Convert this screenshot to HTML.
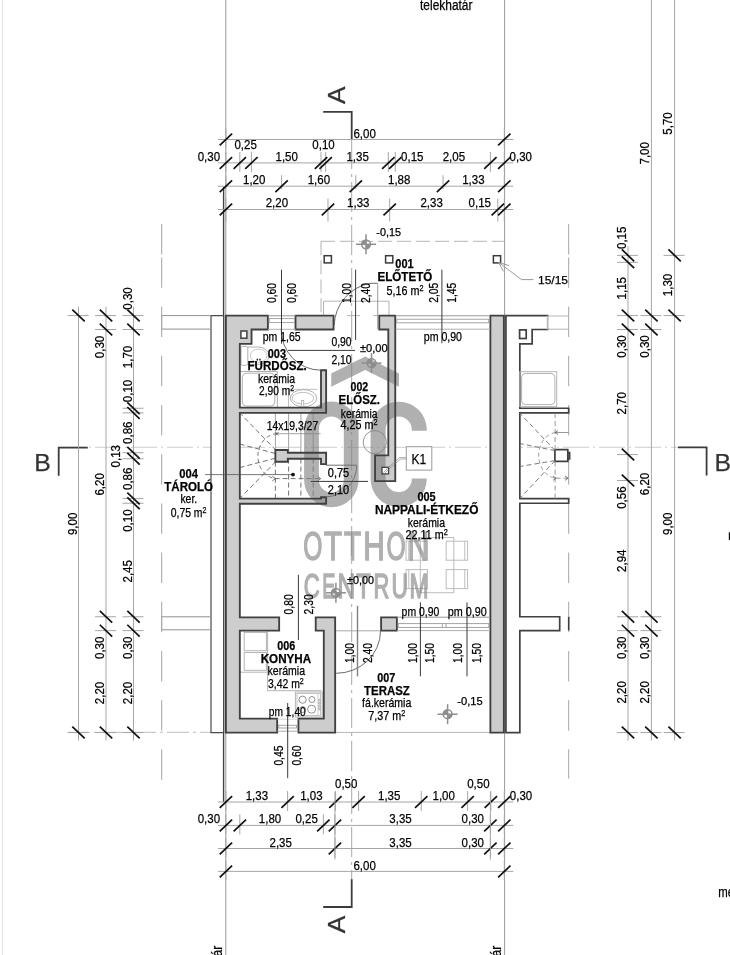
<!DOCTYPE html>
<html lang="hu"><head><meta charset="utf-8"><title>Alaprajz</title>
<style>html,body{margin:0;padding:0;background:#fff}svg{display:block;will-change:transform;opacity:0.999}text{font-family:"Liberation Sans", sans-serif}</style>
</head><body>
<svg width="730" height="955" viewBox="0 0 730 955">
<rect width="730" height="955" fill="#fff"/>
<line x1="2.5" y1="0" x2="2.5" y2="955" stroke="#e6e6e6" stroke-width="1.2" />
<line x1="225.8" y1="0" x2="225.8" y2="955" stroke="#9a9a9a" stroke-width="1" />
<line x1="504.6" y1="0" x2="504.6" y2="955" stroke="#9a9a9a" stroke-width="1" />
<line x1="223.6" y1="187" x2="223.6" y2="802" stroke="#404040" stroke-width="1.4" />
<line x1="335" y1="732.4" x2="490" y2="732.4" stroke="#b4b4b4" stroke-width="1" />
<line x1="68" y1="732.3" x2="211" y2="732.3" stroke="#bdbdbd" stroke-width="1" stroke-dasharray="22 4 3 4" />
<path d="M161.7 224 V254.5 M161.7 257.4 V287.8 M161.7 306.6 V337 M161.7 355.8 V386.2 M161.7 405 V435.4 M161.7 454.2 V484.6 M161.7 503.4 V533.8 M161.7 552.6 V583 M161.7 601.8 V632.2 M161.7 651 V681.4 M161.7 700.2 V730.6 M161.7 749.4 V779.8" fill="none" stroke="#a4a4a4" stroke-width="1"/>
<path d="M568.7 224 V254.5 M568.7 257.4 V287.8 M568.7 306.6 V337 M568.7 355.8 V386.2 M568.7 405 V435.4 M568.7 454.2 V484.6 M568.7 503.4 V533.8 M568.7 552.6 V583 M568.7 601.8 V632.2 M568.7 651 V681.4 M568.7 700.2 V730.6 M568.7 749.4 V778.5" fill="none" stroke="#a4a4a4" stroke-width="1"/>
<line x1="351.7" y1="139" x2="351.7" y2="880" stroke="#a8a8a8" stroke-width="1" stroke-dasharray="30 5 3 5" />
<line x1="59" y1="447.3" x2="706" y2="447.3" stroke="#cdcdcd" stroke-width="1" stroke-dasharray="26 4 2 4" />
<line x1="321" y1="241.3" x2="504" y2="241.3" stroke="#b4b4b4" stroke-width="1" stroke-dasharray="14 5" />
<line x1="321" y1="241.3" x2="321" y2="315" stroke="#b4b4b4" stroke-width="1" stroke-dasharray="14 5" />
<path d="M323.5 315.5 V301.2 H389 V315.5" fill="none" stroke="#b4b4b4" stroke-width="1"/>
<line x1="347.2" y1="315.6" x2="360.2" y2="315.6" stroke="#b4b4b4" stroke-width="1" />
<line x1="373.2" y1="315.6" x2="378" y2="315.6" stroke="#b4b4b4" stroke-width="1" />
<path d="M519.84 315.6 L505.92 315.6 L505.92 329.5 L505.92 732.57 L519.84 732.57 L519.84 630.64 L559.7 630.64 L559.7 616.75 L519.84 616.75 L519.84 503.24 L568.7 503.24 L568.7 498.6 L519.84 498.6 L519.84 412.89 L568.7 412.89 L568.7 408.26 L519.84 408.26 L519.84 343.86 L532.14 343.86 L532.14 329.5 L547.68 329.5 L547.68 315.6 Z" fill="#fff" stroke="#404040" stroke-width="1.7" stroke-linejoin="miter"/>
<rect x="519.6" y="329.9" width="6.6" height="8.6" fill="#fff" stroke="#404040" stroke-width="1.7"/>
<line x1="547.3" y1="316.6" x2="547.3" y2="328.6" stroke="#fff" stroke-width="2.6" />
<line x1="547.3" y1="316" x2="547.3" y2="329.2" stroke="#aaa" stroke-width="1" />
<line x1="547.3" y1="316" x2="568.7" y2="316" stroke="#b4b4b4" stroke-width="1" />
<line x1="547.3" y1="329.2" x2="568.7" y2="329.2" stroke="#b4b4b4" stroke-width="1" />
<rect x="519.8" y="371.7" width="36.9" height="34.9" fill="none" stroke="#b4b4b4" stroke-width="1"/>
<rect x="521.6" y="373.5" width="33.3" height="31.1" rx="4" fill="none" stroke="#b4b4b4" stroke-width="1"/>
<path d="M567.8 452.6 H569.6 V458.8 H567.8 M554.9 449.7 H567.8 V461.4 H554.9 Z" fill="#fff" stroke="#404040" stroke-width="1.7"/>
<line x1="555.1" y1="450.6" x2="519.8" y2="413.2" stroke="#6c6c6c" stroke-width="0.9" stroke-dasharray="5 3" />
<line x1="555.1" y1="450.6" x2="519.8" y2="443.5" stroke="#6c6c6c" stroke-width="0.9" stroke-dasharray="5 3" />
<line x1="555.1" y1="460.6" x2="519.8" y2="466.5" stroke="#6c6c6c" stroke-width="0.9" stroke-dasharray="5 3" />
<line x1="555.1" y1="460.6" x2="519.8" y2="498.5" stroke="#6c6c6c" stroke-width="0.9" stroke-dasharray="5 3" />
<line x1="555.1" y1="413" x2="555.1" y2="449.8" stroke="#8c8c8c" stroke-width="0.9" stroke-dasharray="5 3" />
<line x1="555.1" y1="461.5" x2="555.1" y2="498.5" stroke="#8c8c8c" stroke-width="0.9" stroke-dasharray="5 3" />
<path d="M555.5 432.5 A 19 23 0 0 0 555.5 478.2" fill="none" stroke="#8c8c8c" stroke-width="0.9" stroke-dasharray="4 3"/>
<line x1="555.5" y1="432.5" x2="568.7" y2="432.5" stroke="#8c8c8c" stroke-width="0.9" />
<line x1="555.5" y1="478.2" x2="568.7" y2="478.2" stroke="#8c8c8c" stroke-width="0.9" stroke-dasharray="5 3" />
<path d="M558 430.5 L555.3 432.5 L558 434.5 M553 476 L556 478.2 L553 480.4 M565 476 L568 478.2 L565 480.4" fill="none" stroke="#555" stroke-width="0.8"/>
<line x1="568.7" y1="616.9" x2="568.7" y2="630.4" stroke="#404040" stroke-width="1.6" />
<path d="M223.6 315.6 L223.6 732.57 L211 732.57 L211 315.6 Z" fill="#fff" stroke="#4a4a4a" stroke-width="1.2"/>
<line x1="161.7" y1="315.6" x2="211.2" y2="315.6" stroke="#909090" stroke-width="1" />
<line x1="161.7" y1="329.1" x2="211.2" y2="329.1" stroke="#909090" stroke-width="1" />
<line x1="161.7" y1="616.8" x2="211.2" y2="616.8" stroke="#909090" stroke-width="1" />
<line x1="161.7" y1="629.8" x2="211.2" y2="629.8" stroke="#909090" stroke-width="1" />
<line x1="161.7" y1="315.6" x2="161.7" y2="329.1" stroke="#a8a8a8" stroke-width="1" />
<line x1="161.7" y1="616.8" x2="161.7" y2="629.8" stroke="#a8a8a8" stroke-width="1" />
<rect x="241" y="346.3" width="6.8" height="19" rx="1.5" fill="none" stroke="#b0b0b0" stroke-width="1"/>
<path d="M247.8 347 H258 A 11 8.6 0 0 1 258 364.4 H247.8" fill="none" stroke="#b0b0b0" stroke-width="1"/>
<ellipse cx="258.6" cy="355.7" rx="8.4" ry="6.6" fill="none" stroke="#b0b0b0" stroke-width="0.7"/>
<path d="M240 371.5 H277.3 V407.3" fill="none" stroke="#b0b0b0" stroke-width="1"/>
<rect x="242.3" y="373.2" width="32.5" height="32.8" rx="4" fill="none" stroke="#b0b0b0" stroke-width="1"/>
<path d="M288.5 407.3 V389.3 H317.4" fill="none" stroke="#b0b0b0" stroke-width="0.8"/>
<ellipse cx="303.5" cy="398.2" rx="13.2" ry="8.6" fill="none" stroke="#b0b0b0" stroke-width="1"/>
<ellipse cx="303" cy="398.2" rx="10.8" ry="5.8" fill="none" stroke="#b0b0b0" stroke-width="0.8"/>
<rect x="301.5" y="400.4" width="2.2" height="6.8" fill="#fff" stroke="#b0b0b0" stroke-width="0.8"/>
<line x1="275.4" y1="413" x2="275.4" y2="452.5" stroke="#a4a4a4" stroke-width="1" />
<line x1="288.6" y1="413" x2="288.6" y2="452.5" stroke="#a4a4a4" stroke-width="1" />
<line x1="300.9" y1="413" x2="300.9" y2="452.5" stroke="#a4a4a4" stroke-width="1" />
<line x1="313.2" y1="413" x2="313.2" y2="452.5" stroke="#a4a4a4" stroke-width="1" />
<line x1="277" y1="433.7" x2="320.6" y2="433.7" stroke="#a4a4a4" stroke-width="1" />
<line x1="275.4" y1="461.8" x2="275.4" y2="498.4" stroke="#747474" stroke-width="1" stroke-dasharray="5 3" />
<line x1="288.6" y1="458.6" x2="288.6" y2="498.4" stroke="#747474" stroke-width="1" stroke-dasharray="5 3" />
<line x1="300.9" y1="458.6" x2="300.9" y2="498.4" stroke="#747474" stroke-width="1" stroke-dasharray="5 3" />
<line x1="313.2" y1="458.6" x2="313.2" y2="498.4" stroke="#747474" stroke-width="1" stroke-dasharray="5 3" />
<line x1="276" y1="450.3" x2="240.2" y2="413.4" stroke="#747474" stroke-width="1" stroke-dasharray="5 3" />
<line x1="275.4" y1="453.5" x2="240.2" y2="444.2" stroke="#747474" stroke-width="1" stroke-dasharray="5 3" />
<line x1="275.4" y1="458.2" x2="240.2" y2="467.5" stroke="#747474" stroke-width="1" stroke-dasharray="5 3" />
<line x1="276" y1="461.4" x2="240.2" y2="498" stroke="#747474" stroke-width="1" stroke-dasharray="5 3" />
<path d="M277 433.7 A 19.8 22.6 0 0 0 274.6 478.6" fill="none" stroke="#747474" stroke-width="1" stroke-dasharray="4 3"/>
<line x1="274.6" y1="478.6" x2="320.6" y2="478.6" stroke="#747474" stroke-width="1" stroke-dasharray="5 3" />
<path d="M275.5 432 L278.5 435.4 M278.5 432 L275.5 435.4 M272.3 476.3 L275.6 478.6 L272.3 480.9 M317.5 476.3 L320.8 478.6 L317.5 480.9" fill="none" stroke="#555" stroke-width="0.8"/>
<circle cx="374.8" cy="442.2" r="11.6" fill="none" stroke="#8a8a8a" stroke-width="0.9"/>
<rect x="420.3" y="537.5" width="33.5" height="55.2" fill="none" stroke="#bdbdbd" stroke-width="1"/>
<rect x="406" y="541.2" width="21.4" height="19" fill="none" stroke="#bdbdbd" stroke-width="1"/>
<line x1="408.8" y1="541.2" x2="408.8" y2="560.2" stroke="#bdbdbd" stroke-width="1" />
<rect x="406" y="569.6" width="21.4" height="19" fill="none" stroke="#bdbdbd" stroke-width="1"/>
<line x1="408.8" y1="569.6" x2="408.8" y2="588.6" stroke="#bdbdbd" stroke-width="1" />
<rect x="446.2" y="541.2" width="21.4" height="19" fill="none" stroke="#bdbdbd" stroke-width="1"/>
<line x1="464.8" y1="541.2" x2="464.8" y2="560.2" stroke="#bdbdbd" stroke-width="1" />
<rect x="446.2" y="569.6" width="21.4" height="19" fill="none" stroke="#bdbdbd" stroke-width="1"/>
<line x1="464.8" y1="569.6" x2="464.8" y2="588.6" stroke="#bdbdbd" stroke-width="1" />
<path d="M267.6 630.5 V690.7 H321.5" fill="none" stroke="#b4b4b4" stroke-width="1"/>
<line x1="239.8" y1="672.2" x2="267.6" y2="672.2" stroke="#b4b4b4" stroke-width="1" />
<rect x="244.2" y="632.4" width="22.2" height="18.3" fill="none" stroke="#b4b4b4" stroke-width="1"/>
<rect x="244.2" y="652.5" width="22.2" height="17.8" fill="none" stroke="#b4b4b4" stroke-width="1"/>
<rect x="295.4" y="692" width="26.8" height="25" fill="#fff" stroke="#b4b4b4" stroke-width="1"/>
<rect x="297" y="693.6" width="23.6" height="21.8" fill="none" stroke="#b4b4b4" stroke-width="0.8"/>
<circle cx="302.6" cy="699.7" r="3.6" fill="none" stroke="#909090" stroke-width="1"/>
<circle cx="311.9" cy="699.5" r="3" fill="none" stroke="#909090" stroke-width="1"/>
<circle cx="302.6" cy="709.6" r="3" fill="none" stroke="#909090" stroke-width="1"/>
<circle cx="311.6" cy="709.2" r="4" fill="none" stroke="#909090" stroke-width="1"/>
<line x1="318" y1="694" x2="318" y2="715" stroke="#b4b4b4" stroke-width="0.7" />
<circle cx="319.4" cy="700" r="0.9" fill="none" stroke="#888" stroke-width="0.6"/>
<circle cx="319.4" cy="703" r="0.9" fill="none" stroke="#888" stroke-width="0.6"/>
<circle cx="319.4" cy="706" r="0.9" fill="none" stroke="#888" stroke-width="0.6"/>
<circle cx="319.4" cy="709" r="0.9" fill="none" stroke="#888" stroke-width="0.6"/>
<path d="M251.54 329.5 L267.89 329.5 L267.89 315.6 L239.82 315.6 L225.9 315.6 L225.9 329.5 L225.9 718.67 L225.9 732.57 L239.82 732.57 L277.17 732.57 L277.17 718.67 L239.82 718.67 L239.82 630.64 L279.17 630.64 L279.17 617.44 L239.82 617.44 L239.82 503.7 L326.12 503.7 L326.12 498.6 L326.12 497.21 L321.02 497.21 L321.02 498.6 L239.82 498.6 L239.82 412.89 L321.02 412.89 L326.12 412.89 L326.12 407.57 L326.12 370.27 L321.02 370.27 L321.02 407.57 L239.82 407.57 L239.82 343.86 L251.54 343.86 Z M333.55 315.6 L295.5 315.6 L295.5 329.5 L333.55 329.5 Z M298.42 718.67 L298.42 732.57 L323.8 732.57 L335.17 732.57 L335.17 718.67 L335.17 630.64 L335.17 617.44 L315.73 617.44 L315.73 630.64 L323.8 630.64 L323.8 718.67 Z M388.3 455.38 L375.08 455.38 L375.08 481.18 L395.26 481.18 L395.26 480.53 L395.26 455.38 L395.26 329.5 L395.26 315.6 L379.25 315.6 L379.25 329.5 L388.3 329.5 Z M503.84 315.6 L490.38 315.6 L490.38 732.57 L503.84 732.57 Z M381.11 617.44 L381.11 630.64 L396.88 630.64 L396.88 617.44 Z" fill="#cdcdcd"/>
<path d="M326.12 452.74 L321.02 452.74 L287.8 452.74 L287.8 449.96 L275.36 449.96 L275.36 461.72 L287.8 461.72 L287.8 458.76 L321.02 458.76 L321.02 464.09 L326.12 464.09 L326.12 458.76 Z" fill="#cdcdcd"/>
<g fill="#808080" opacity="0.62"><path d="M365.2 356.6 L399 373.4 V386.8 L365.2 370 L331.2 386.8 V373.4 Z"/><path fill-rule="evenodd" d="M304.1 428.85 A27.25 27.25 0 0 1 358.6 428.85 V479.95 A27.25 27.25 0 0 1 304.1 479.95 Z M318.9 428.85 V479.95 A12.45 12.45 0 0 0 343.8 479.95 V428.85 A12.45 12.45 0 0 0 318.9 428.85 Z"/><clipPath id="cc"><path d="M360 390 H440 V430.7 H405 V478.5 H440 V520 H360 Z"/></clipPath><path clip-path="url(#cc)" fill-rule="evenodd" d="M370.6 429.7 A28.1 28.1 0 0 1 426.8 429.7 V479.1 A28.1 28.1 0 0 1 370.6 479.1 Z M385.6 429.7 V479.1 A13.1 13.1 0 0 0 411.8 479.1 V429.7 A13.1 13.1 0 0 0 385.6 429.7 Z"/></g>
<g fill="#808080" stroke="#808080" stroke-width="1.5" stroke-linejoin="miter" opacity="0.62" font-size="40.81"><text x="303.18" y="559.95" textLength="19.14" lengthAdjust="spacingAndGlyphs">O</text><text x="323.89" y="559.95" textLength="18.04" lengthAdjust="spacingAndGlyphs">T</text><text x="344.02" y="559.95" textLength="17.07" lengthAdjust="spacingAndGlyphs">T</text><text x="363.3" y="559.95" textLength="21.59" lengthAdjust="spacingAndGlyphs">H</text><text x="386.58" y="559.95" textLength="19.14" lengthAdjust="spacingAndGlyphs">O</text><text x="407.4" y="559.95" textLength="21.59" lengthAdjust="spacingAndGlyphs">N</text></g>
<g fill="#808080" stroke="#808080" stroke-width="1.5" stroke-linejoin="miter" opacity="0.62" font-size="34.71"><text x="303.63" y="597.75" textLength="15.96" lengthAdjust="spacingAndGlyphs">C</text><text x="322.23" y="597.75" textLength="13.17" lengthAdjust="spacingAndGlyphs">E</text><text x="337.62" y="597.75" textLength="17.84" lengthAdjust="spacingAndGlyphs">N</text><text x="356.22" y="597.75" textLength="14.48" lengthAdjust="spacingAndGlyphs">T</text><text x="373.45" y="597.75" textLength="15.81" lengthAdjust="spacingAndGlyphs">R</text><text x="391.6" y="597.75" textLength="16.41" lengthAdjust="spacingAndGlyphs">U</text><text x="409.57" y="597.75" textLength="19.05" lengthAdjust="spacingAndGlyphs">M</text></g>
<path d="M251.54 329.5 L267.89 329.5 L267.89 315.6 L239.82 315.6 L225.9 315.6 L225.9 329.5 L225.9 718.67 L225.9 732.57 L239.82 732.57 L277.17 732.57 L277.17 718.67 L239.82 718.67 L239.82 630.64 L279.17 630.64 L279.17 617.44 L239.82 617.44 L239.82 503.7 L326.12 503.7 L326.12 498.6 L326.12 497.21 L321.02 497.21 L321.02 498.6 L239.82 498.6 L239.82 412.89 L321.02 412.89 L326.12 412.89 L326.12 407.57 L326.12 370.27 L321.02 370.27 L321.02 407.57 L239.82 407.57 L239.82 343.86 L251.54 343.86 Z M333.55 315.6 L295.5 315.6 L295.5 329.5 L333.55 329.5 Z M298.42 718.67 L298.42 732.57 L323.8 732.57 L335.17 732.57 L335.17 718.67 L335.17 630.64 L335.17 617.44 L315.73 617.44 L315.73 630.64 L323.8 630.64 L323.8 718.67 Z M388.3 455.38 L375.08 455.38 L375.08 481.18 L395.26 481.18 L395.26 480.53 L395.26 455.38 L395.26 329.5 L395.26 315.6 L379.25 315.6 L379.25 329.5 L388.3 329.5 Z M503.84 315.6 L490.38 315.6 L490.38 732.57 L503.84 732.57 Z M381.11 617.44 L381.11 630.64 L396.88 630.64 L396.88 617.44 Z" fill="none" stroke="#404040" stroke-width="1.85" stroke-linejoin="miter"/>
<path d="M326.12 452.74 L321.02 452.74 L287.8 452.74 L287.8 449.96 L275.36 449.96 L275.36 461.72 L287.8 461.72 L287.8 458.76 L321.02 458.76 L321.02 464.09 L326.12 464.09 L326.12 458.76 Z" fill="none" stroke="#404040" stroke-width="1.85" stroke-linejoin="miter"/>
<rect x="240.9" y="331" width="6" height="7.2" fill="#fff" stroke="#404040" stroke-width="1.5"/>
<rect x="382" y="467.3" width="6.6" height="6.6" fill="#fff" stroke="#404040" stroke-width="1.3"/>
<path d="M383.5 472.5 L387 469 M385 473 L387.8 470.2" stroke="#777" stroke-width="0.6"/>
<line x1="268" y1="315.8" x2="295.6" y2="315.8" stroke="#989898" stroke-width="1" />
<line x1="268" y1="329.3" x2="295.6" y2="329.3" stroke="#b0b0b0" stroke-width="1" />
<rect x="269.2" y="318.6" width="25.2" height="4" fill="#fff" stroke="#9c9c9c" stroke-width="0.9"/>
<line x1="395.6" y1="315.8" x2="490" y2="315.8" stroke="#989898" stroke-width="1" />
<line x1="395.6" y1="329.2" x2="490" y2="329.2" stroke="#b0b0b0" stroke-width="1" />
<rect x="396.8" y="319.2" width="92" height="3.6" fill="#fff" stroke="#9c9c9c" stroke-width="0.9"/>
<line x1="277.4" y1="719.2" x2="298.2" y2="719.2" stroke="#d2d2d2" stroke-width="1" />
<line x1="277.4" y1="731.2" x2="298.2" y2="731.2" stroke="#a8a8a8" stroke-width="1" />
<rect x="278.7" y="725.3" width="17.8" height="2.7" fill="#fff" stroke="#9c9c9c" stroke-width="0.9"/>
<line x1="397" y1="617.2" x2="490" y2="617.2" stroke="#989898" stroke-width="1" />
<line x1="397" y1="630.6" x2="490" y2="630.6" stroke="#b0b0b0" stroke-width="1" />
<rect x="398.2" y="623.6" width="90.6" height="3.8" fill="#fff" stroke="#9c9c9c" stroke-width="0.9"/>
<line x1="442.3" y1="623.6" x2="442.3" y2="627.4" stroke="#9c9c9c" stroke-width="0.9" />
<line x1="446" y1="623.6" x2="446" y2="627.4" stroke="#9c9c9c" stroke-width="0.9" />
<rect x="324.2" y="255.7" width="7.2" height="7.2" fill="#fff" stroke="#3a3a3a" stroke-width="1.5"/>
<rect x="385.6" y="255.7" width="7.2" height="7.2" fill="#fff" stroke="#3a3a3a" stroke-width="1.5"/>
<rect x="493.4" y="255.7" width="7.2" height="7.2" fill="#fff" stroke="#3a3a3a" stroke-width="1.5"/>
<path d="M334.2 325 A 44 44 0 0 1 370 283.3 H377.7" fill="none" stroke="#5a5a5a" stroke-width="0.9"/>
<line x1="377.7" y1="283.3" x2="377.7" y2="329" stroke="#9a9a9a" stroke-width="1" />
<path d="M281.2 329.6 A 39.6 40.6 0 0 0 320.8 370.2" fill="none" stroke="#5a5a5a" stroke-width="0.9"/>
<line x1="326" y1="465.2" x2="356.8" y2="465.2" stroke="#6e6e6e" stroke-width="1" />
<path d="M356.8 465.2 A 31.2 31.6 0 0 1 326 496.8" fill="none" stroke="#6e6e6e" stroke-width="0.9"/>
<line x1="336" y1="630.8" x2="380.4" y2="630.8" stroke="#a8a8a8" stroke-width="1" />
<path d="M380.5 631 A 44.4 42.3 0 0 1 336.2 673.3" fill="none" stroke="#5a5a5a" stroke-width="0.9"/>
<line x1="356" y1="244.3" x2="376" y2="244.3" stroke="#8e8e8e" stroke-width="1.5" />
<line x1="366" y1="234.3" x2="366" y2="254.3" stroke="#8e8e8e" stroke-width="1.5" />
<circle cx="366" cy="244.3" r="4.4" fill="none" stroke="#8e8e8e" stroke-width="1.5"/>
<path d="M366 244.3 h-4.5 a4.5 4.5 0 0 1 4.5 -4.5 z M366 244.3 h4.5 a4.5 4.5 0 0 1 -4.5 4.5 z" fill="#8e8e8e"/>
<line x1="361.5" y1="363.1" x2="381.5" y2="363.1" stroke="#8e8e8e" stroke-width="1.5" />
<line x1="371.5" y1="353.1" x2="371.5" y2="373.1" stroke="#8e8e8e" stroke-width="1.5" />
<circle cx="371.5" cy="363.1" r="4.4" fill="none" stroke="#8e8e8e" stroke-width="1.5"/>
<path d="M371.5 363.1 h-4.5 a4.5 4.5 0 0 1 4.5 -4.5 z M371.5 363.1 h4.5 a4.5 4.5 0 0 1 -4.5 4.5 z" fill="#8e8e8e"/>
<line x1="325.9" y1="592.8" x2="345.9" y2="592.8" stroke="#8e8e8e" stroke-width="1.5" />
<line x1="335.9" y1="582.8" x2="335.9" y2="602.8" stroke="#8e8e8e" stroke-width="1.5" />
<circle cx="335.9" cy="592.8" r="4.4" fill="none" stroke="#8e8e8e" stroke-width="1.5"/>
<path d="M335.9 592.8 h-4.5 a4.5 4.5 0 0 1 4.5 -4.5 z M335.9 592.8 h4.5 a4.5 4.5 0 0 1 -4.5 4.5 z" fill="#8e8e8e"/>
<line x1="437.6" y1="714.2" x2="457.6" y2="714.2" stroke="#8e8e8e" stroke-width="1.5" />
<line x1="447.6" y1="704.2" x2="447.6" y2="724.2" stroke="#8e8e8e" stroke-width="1.5" />
<circle cx="447.6" cy="714.2" r="4.4" fill="none" stroke="#8e8e8e" stroke-width="1.5"/>
<path d="M447.6 714.2 h-4.5 a4.5 4.5 0 0 1 4.5 -4.5 z M447.6 714.2 h4.5 a4.5 4.5 0 0 1 -4.5 4.5 z" fill="#8e8e8e"/>
<line x1="281.5" y1="269.7" x2="281.5" y2="343.7" stroke="#3a3a3a" stroke-width="1" />
<line x1="355.6" y1="269.7" x2="355.6" y2="340" stroke="#3a3a3a" stroke-width="1" />
<line x1="441.9" y1="269.7" x2="441.9" y2="343.3" stroke="#3a3a3a" stroke-width="1" />
<line x1="288" y1="350.4" x2="355" y2="350.4" stroke="#3a3a3a" stroke-width="1" />
<line x1="310.8" y1="481.4" x2="368" y2="481.4" stroke="#3a3a3a" stroke-width="1" />
<line x1="298.4" y1="574.8" x2="298.4" y2="640" stroke="#3a3a3a" stroke-width="1" />
<line x1="357.5" y1="605.8" x2="357.5" y2="676.4" stroke="#808080" stroke-width="1.4" />
<line x1="420.4" y1="602.4" x2="420.4" y2="676.3" stroke="#3a3a3a" stroke-width="1" />
<line x1="467" y1="602.4" x2="467" y2="676.3" stroke="#3a3a3a" stroke-width="1" />
<line x1="287.7" y1="703" x2="287.7" y2="778.2" stroke="#3a3a3a" stroke-width="1" />
<line x1="205" y1="474.6" x2="293" y2="474.6" stroke="#555" stroke-width="0.8" />
<circle cx="293" cy="474.6" r="1.9" fill="#111"/>
<path d="M386 469.6 L399.6 457.6 H406 M387.4 470.6 L400.6 459 H406" fill="none" stroke="#777" stroke-width="0.6"/>
<rect x="406.3" y="446.7" width="25.5" height="23.4" fill="#fff" stroke="#9a9a9a" stroke-width="1"/>
<text x="418.8" y="463.7" font-size="15.3" text-anchor="middle" textLength="14.6" lengthAdjust="spacingAndGlyphs" fill="#000"  stroke="#000" stroke-width="0.25">K1</text>
<path d="M498.6 262.4 L521.6 279.6 H533.4 M498.6 262.4 L509 265.6 M498.6 262.4 L503.4 271.4" fill="none" stroke="#999" stroke-width="1"/>
<text x="553" y="283.8" font-size="11.7" text-anchor="middle" textLength="30" lengthAdjust="spacingAndGlyphs" fill="#000"  stroke="#000" stroke-width="0.25">15/15</text>
<path d="M323.2 111.9 H351.7 V139.2" fill="none" stroke="#3c3c3c" stroke-width="1.8"/>
<path d="M351.7 879.2 V907 H323.2" fill="none" stroke="#3c3c3c" stroke-width="1.8"/>
<path d="M87.8 447.6 H58.7 V475.8" fill="none" stroke="#3c3c3c" stroke-width="1.8"/>
<path d="M678 447.4 H706.6 V475.6" fill="none" stroke="#3c3c3c" stroke-width="1.8"/>
<text transform="translate(345.1,95.2) rotate(-90)" font-size="24.6" text-anchor="middle" textLength="17.6" lengthAdjust="spacingAndGlyphs" fill="#333"  stroke="#333" stroke-width="0.25">A</text>
<text transform="translate(345.1,924.4) rotate(-90)" font-size="24.6" text-anchor="middle" textLength="17.6" lengthAdjust="spacingAndGlyphs" fill="#333"  stroke="#333" stroke-width="0.25">A</text>
<text x="42.5" y="470.6" font-size="24.8" text-anchor="middle" fill="#333"  stroke="#333" stroke-width="0.25">B</text>
<text x="714.4" y="470.7" font-size="24.8" text-anchor="start" fill="#333"  stroke="#333" stroke-width="0.25">B</text>
<rect x="728.8" y="532.3" width="1.5" height="7.7" fill="#111"/>
<line x1="217.9" y1="139.5" x2="513.3" y2="139.5" stroke="#a6a6a6" stroke-width="1" />
<line x1="225.9" y1="128.5" x2="225.9" y2="148.5" stroke="#a6a6a6" stroke-width="1" />
<line x1="504.3" y1="128.5" x2="504.3" y2="148.5" stroke="#a6a6a6" stroke-width="1" />
<line x1="219.7" y1="145.39" x2="232.1" y2="133.61" stroke="#111" stroke-width="1.7" />
<line x1="498.1" y1="145.39" x2="510.5" y2="133.61" stroke="#111" stroke-width="1.7" />
<line x1="217.9" y1="162.9" x2="513.3" y2="162.9" stroke="#a6a6a6" stroke-width="1" />
<line x1="225.9" y1="151.9" x2="225.9" y2="171.9" stroke="#a6a6a6" stroke-width="1" />
<line x1="239.82" y1="151.9" x2="239.82" y2="171.9" stroke="#a6a6a6" stroke-width="1" />
<line x1="251.42" y1="151.9" x2="251.42" y2="171.9" stroke="#a6a6a6" stroke-width="1" />
<line x1="321.02" y1="151.9" x2="321.02" y2="171.9" stroke="#a6a6a6" stroke-width="1" />
<line x1="325.66" y1="151.9" x2="325.66" y2="171.9" stroke="#a6a6a6" stroke-width="1" />
<line x1="388.3" y1="151.9" x2="388.3" y2="171.9" stroke="#a6a6a6" stroke-width="1" />
<line x1="395.26" y1="151.9" x2="395.26" y2="171.9" stroke="#a6a6a6" stroke-width="1" />
<line x1="490.38" y1="151.9" x2="490.38" y2="171.9" stroke="#a6a6a6" stroke-width="1" />
<line x1="504.3" y1="151.9" x2="504.3" y2="171.9" stroke="#a6a6a6" stroke-width="1" />
<line x1="219.7" y1="168.79" x2="232.1" y2="157.01" stroke="#111" stroke-width="1.7" />
<line x1="233.62" y1="168.79" x2="246.02" y2="157.01" stroke="#111" stroke-width="1.7" />
<line x1="245.22" y1="168.79" x2="257.62" y2="157.01" stroke="#111" stroke-width="1.7" />
<line x1="314.82" y1="168.79" x2="327.22" y2="157.01" stroke="#111" stroke-width="1.7" />
<line x1="319.46" y1="168.79" x2="331.86" y2="157.01" stroke="#111" stroke-width="1.7" />
<line x1="382.1" y1="168.79" x2="394.5" y2="157.01" stroke="#111" stroke-width="1.7" />
<line x1="389.06" y1="168.79" x2="401.46" y2="157.01" stroke="#111" stroke-width="1.7" />
<line x1="484.18" y1="168.79" x2="496.58" y2="157.01" stroke="#111" stroke-width="1.7" />
<line x1="498.1" y1="168.79" x2="510.5" y2="157.01" stroke="#111" stroke-width="1.7" />
<line x1="217.9" y1="186.2" x2="513.3" y2="186.2" stroke="#a6a6a6" stroke-width="1" />
<line x1="225.9" y1="175.2" x2="225.9" y2="189.2" stroke="#a6a6a6" stroke-width="1" />
<line x1="281.58" y1="175.2" x2="281.58" y2="189.2" stroke="#a6a6a6" stroke-width="1" />
<line x1="355.82" y1="175.2" x2="355.82" y2="189.2" stroke="#a6a6a6" stroke-width="1" />
<line x1="443.05" y1="175.2" x2="443.05" y2="189.2" stroke="#a6a6a6" stroke-width="1" />
<line x1="504.3" y1="175.2" x2="504.3" y2="189.2" stroke="#a6a6a6" stroke-width="1" />
<line x1="219.7" y1="192.09" x2="232.1" y2="180.31" stroke="#111" stroke-width="1.7" />
<line x1="275.38" y1="192.09" x2="287.78" y2="180.31" stroke="#111" stroke-width="1.7" />
<line x1="349.62" y1="192.09" x2="362.02" y2="180.31" stroke="#111" stroke-width="1.7" />
<line x1="436.85" y1="192.09" x2="449.25" y2="180.31" stroke="#111" stroke-width="1.7" />
<line x1="498.1" y1="192.09" x2="510.5" y2="180.31" stroke="#111" stroke-width="1.7" />
<line x1="217.9" y1="209.5" x2="513.3" y2="209.5" stroke="#a6a6a6" stroke-width="1" />
<line x1="225.9" y1="198.5" x2="225.9" y2="221.5" stroke="#a6a6a6" stroke-width="1" />
<line x1="327.98" y1="198.5" x2="327.98" y2="221.5" stroke="#a6a6a6" stroke-width="1" />
<line x1="389.69" y1="198.5" x2="389.69" y2="221.5" stroke="#a6a6a6" stroke-width="1" />
<line x1="497.8" y1="198.5" x2="497.8" y2="221.5" stroke="#a6a6a6" stroke-width="1" />
<line x1="504.3" y1="198.5" x2="504.3" y2="221.5" stroke="#a6a6a6" stroke-width="1" />
<line x1="219.7" y1="215.39" x2="232.1" y2="203.61" stroke="#111" stroke-width="1.7" />
<line x1="321.78" y1="215.39" x2="334.18" y2="203.61" stroke="#111" stroke-width="1.7" />
<line x1="383.49" y1="215.39" x2="395.89" y2="203.61" stroke="#111" stroke-width="1.7" />
<line x1="491.6" y1="215.39" x2="504" y2="203.61" stroke="#111" stroke-width="1.7" />
<line x1="498.1" y1="215.39" x2="510.5" y2="203.61" stroke="#111" stroke-width="1.7" />
<text x="364.6" y="138" font-size="13.6" text-anchor="middle" textLength="22.4" lengthAdjust="spacingAndGlyphs" fill="#000"  stroke="#000" stroke-width="0.25">6,00</text>
<text x="208.9" y="161" font-size="13.6" text-anchor="middle" textLength="22.4" lengthAdjust="spacingAndGlyphs" fill="#000"  stroke="#000" stroke-width="0.25">0,30</text>
<text x="245.6" y="148.7" font-size="13.6" text-anchor="middle" textLength="22.4" lengthAdjust="spacingAndGlyphs" fill="#000"  stroke="#000" stroke-width="0.25">0,25</text>
<text x="286.7" y="161" font-size="13.6" text-anchor="middle" textLength="22.4" lengthAdjust="spacingAndGlyphs" fill="#000"  stroke="#000" stroke-width="0.25">1,50</text>
<text x="323.5" y="148.7" font-size="13.6" text-anchor="middle" textLength="22.4" lengthAdjust="spacingAndGlyphs" fill="#000"  stroke="#000" stroke-width="0.25">0,10</text>
<text x="357.6" y="161" font-size="13.6" text-anchor="middle" textLength="22.4" lengthAdjust="spacingAndGlyphs" fill="#000"  stroke="#000" stroke-width="0.25">1,35</text>
<text x="412.3" y="161" font-size="13.6" text-anchor="middle" textLength="22.4" lengthAdjust="spacingAndGlyphs" fill="#000"  stroke="#000" stroke-width="0.25">0,15</text>
<text x="453.9" y="161" font-size="13.6" text-anchor="middle" textLength="22.4" lengthAdjust="spacingAndGlyphs" fill="#000"  stroke="#000" stroke-width="0.25">2,05</text>
<text x="520.8" y="161" font-size="13.6" text-anchor="middle" textLength="22.4" lengthAdjust="spacingAndGlyphs" fill="#000"  stroke="#000" stroke-width="0.25">0,30</text>
<text x="254.2" y="184.2" font-size="13.6" text-anchor="middle" textLength="22.4" lengthAdjust="spacingAndGlyphs" fill="#000"  stroke="#000" stroke-width="0.25">1,20</text>
<text x="318.9" y="184.2" font-size="13.6" text-anchor="middle" textLength="22.4" lengthAdjust="spacingAndGlyphs" fill="#000"  stroke="#000" stroke-width="0.25">1,60</text>
<text x="399.2" y="184.2" font-size="13.6" text-anchor="middle" textLength="22.4" lengthAdjust="spacingAndGlyphs" fill="#000"  stroke="#000" stroke-width="0.25">1,88</text>
<text x="473.4" y="184.2" font-size="13.6" text-anchor="middle" textLength="22.4" lengthAdjust="spacingAndGlyphs" fill="#000"  stroke="#000" stroke-width="0.25">1,33</text>
<text x="276.9" y="207.2" font-size="13.6" text-anchor="middle" textLength="22.4" lengthAdjust="spacingAndGlyphs" fill="#000"  stroke="#000" stroke-width="0.25">2,20</text>
<text x="358.3" y="207.2" font-size="13.6" text-anchor="middle" textLength="22.4" lengthAdjust="spacingAndGlyphs" fill="#000"  stroke="#000" stroke-width="0.25">1,33</text>
<text x="431.6" y="207.2" font-size="13.6" text-anchor="middle" textLength="22.4" lengthAdjust="spacingAndGlyphs" fill="#000"  stroke="#000" stroke-width="0.25">2,33</text>
<text x="479.8" y="207.2" font-size="13.6" text-anchor="middle" textLength="22.4" lengthAdjust="spacingAndGlyphs" fill="#000"  stroke="#000" stroke-width="0.25">0,15</text>
<line x1="217.9" y1="802" x2="513.3" y2="802" stroke="#a6a6a6" stroke-width="1" />
<line x1="225.9" y1="791" x2="225.9" y2="811" stroke="#a6a6a6" stroke-width="1" />
<line x1="287.61" y1="791" x2="287.61" y2="811" stroke="#a6a6a6" stroke-width="1" />
<line x1="335.4" y1="791" x2="335.4" y2="811" stroke="#a6a6a6" stroke-width="1" />
<line x1="358.6" y1="791" x2="358.6" y2="811" stroke="#a6a6a6" stroke-width="1" />
<line x1="421.24" y1="791" x2="421.24" y2="811" stroke="#a6a6a6" stroke-width="1" />
<line x1="467.64" y1="791" x2="467.64" y2="811" stroke="#a6a6a6" stroke-width="1" />
<line x1="490.84" y1="791" x2="490.84" y2="811" stroke="#a6a6a6" stroke-width="1" />
<line x1="504.3" y1="791" x2="504.3" y2="811" stroke="#a6a6a6" stroke-width="1" />
<line x1="219.7" y1="807.89" x2="232.1" y2="796.11" stroke="#111" stroke-width="1.7" />
<line x1="281.41" y1="807.89" x2="293.81" y2="796.11" stroke="#111" stroke-width="1.7" />
<line x1="329.2" y1="807.89" x2="341.6" y2="796.11" stroke="#111" stroke-width="1.7" />
<line x1="352.4" y1="807.89" x2="364.8" y2="796.11" stroke="#111" stroke-width="1.7" />
<line x1="415.04" y1="807.89" x2="427.44" y2="796.11" stroke="#111" stroke-width="1.7" />
<line x1="461.44" y1="807.89" x2="473.84" y2="796.11" stroke="#111" stroke-width="1.7" />
<line x1="484.64" y1="807.89" x2="497.04" y2="796.11" stroke="#111" stroke-width="1.7" />
<line x1="498.1" y1="807.89" x2="510.5" y2="796.11" stroke="#111" stroke-width="1.7" />
<line x1="217.9" y1="825.4" x2="513.3" y2="825.4" stroke="#a6a6a6" stroke-width="1" />
<line x1="225.9" y1="814.4" x2="225.9" y2="834.4" stroke="#a6a6a6" stroke-width="1" />
<line x1="239.82" y1="814.4" x2="239.82" y2="834.4" stroke="#a6a6a6" stroke-width="1" />
<line x1="323.34" y1="814.4" x2="323.34" y2="834.4" stroke="#a6a6a6" stroke-width="1" />
<line x1="334.94" y1="814.4" x2="334.94" y2="834.4" stroke="#a6a6a6" stroke-width="1" />
<line x1="490.38" y1="814.4" x2="490.38" y2="834.4" stroke="#a6a6a6" stroke-width="1" />
<line x1="504.3" y1="814.4" x2="504.3" y2="834.4" stroke="#a6a6a6" stroke-width="1" />
<line x1="219.7" y1="831.29" x2="232.1" y2="819.51" stroke="#111" stroke-width="1.7" />
<line x1="233.62" y1="831.29" x2="246.02" y2="819.51" stroke="#111" stroke-width="1.7" />
<line x1="317.14" y1="831.29" x2="329.54" y2="819.51" stroke="#111" stroke-width="1.7" />
<line x1="328.74" y1="831.29" x2="341.14" y2="819.51" stroke="#111" stroke-width="1.7" />
<line x1="484.18" y1="831.29" x2="496.58" y2="819.51" stroke="#111" stroke-width="1.7" />
<line x1="498.1" y1="831.29" x2="510.5" y2="819.51" stroke="#111" stroke-width="1.7" />
<line x1="217.9" y1="848.5" x2="513.3" y2="848.5" stroke="#a6a6a6" stroke-width="1" />
<line x1="225.9" y1="837.5" x2="225.9" y2="857.5" stroke="#a6a6a6" stroke-width="1" />
<line x1="334.94" y1="837.5" x2="334.94" y2="857.5" stroke="#a6a6a6" stroke-width="1" />
<line x1="490.38" y1="837.5" x2="490.38" y2="857.5" stroke="#a6a6a6" stroke-width="1" />
<line x1="504.3" y1="837.5" x2="504.3" y2="857.5" stroke="#a6a6a6" stroke-width="1" />
<line x1="219.7" y1="854.39" x2="232.1" y2="842.61" stroke="#111" stroke-width="1.7" />
<line x1="328.74" y1="854.39" x2="341.14" y2="842.61" stroke="#111" stroke-width="1.7" />
<line x1="484.18" y1="854.39" x2="496.58" y2="842.61" stroke="#111" stroke-width="1.7" />
<line x1="498.1" y1="854.39" x2="510.5" y2="842.61" stroke="#111" stroke-width="1.7" />
<line x1="217.9" y1="871.4" x2="513.3" y2="871.4" stroke="#a6a6a6" stroke-width="1" />
<line x1="225.9" y1="860.4" x2="225.9" y2="880.4" stroke="#a6a6a6" stroke-width="1" />
<line x1="504.3" y1="860.4" x2="504.3" y2="880.4" stroke="#a6a6a6" stroke-width="1" />
<line x1="219.7" y1="877.29" x2="232.1" y2="865.51" stroke="#111" stroke-width="1.7" />
<line x1="498.1" y1="877.29" x2="510.5" y2="865.51" stroke="#111" stroke-width="1.7" />
<line x1="334.94" y1="791.8" x2="334.94" y2="859.6" stroke="#a6a6a6" stroke-width="1" />
<line x1="490.38" y1="791.8" x2="490.38" y2="859.6" stroke="#a6a6a6" stroke-width="1" />
<text x="256.9" y="800" font-size="13.6" text-anchor="middle" textLength="22.4" lengthAdjust="spacingAndGlyphs" fill="#000"  stroke="#000" stroke-width="0.25">1,33</text>
<text x="311.4" y="800" font-size="13.6" text-anchor="middle" textLength="22.4" lengthAdjust="spacingAndGlyphs" fill="#000"  stroke="#000" stroke-width="0.25">1,03</text>
<text x="346.2" y="787.9" font-size="13.6" text-anchor="middle" textLength="22.4" lengthAdjust="spacingAndGlyphs" fill="#000"  stroke="#000" stroke-width="0.25">0,50</text>
<text x="389.2" y="800" font-size="13.6" text-anchor="middle" textLength="22.4" lengthAdjust="spacingAndGlyphs" fill="#000"  stroke="#000" stroke-width="0.25">1,35</text>
<text x="443.7" y="800" font-size="13.6" text-anchor="middle" textLength="22.4" lengthAdjust="spacingAndGlyphs" fill="#000"  stroke="#000" stroke-width="0.25">1,00</text>
<text x="478.4" y="787.9" font-size="13.6" text-anchor="middle" textLength="22.4" lengthAdjust="spacingAndGlyphs" fill="#000"  stroke="#000" stroke-width="0.25">0,50</text>
<text x="521" y="800" font-size="13.6" text-anchor="middle" textLength="22.4" lengthAdjust="spacingAndGlyphs" fill="#000"  stroke="#000" stroke-width="0.25">0,30</text>
<text x="208.9" y="823.4" font-size="13.6" text-anchor="middle" textLength="22.4" lengthAdjust="spacingAndGlyphs" fill="#000"  stroke="#000" stroke-width="0.25">0,30</text>
<text x="270" y="823.4" font-size="13.6" text-anchor="middle" textLength="22.4" lengthAdjust="spacingAndGlyphs" fill="#000"  stroke="#000" stroke-width="0.25">1,80</text>
<text x="306.6" y="823.4" font-size="13.6" text-anchor="middle" textLength="22.4" lengthAdjust="spacingAndGlyphs" fill="#000"  stroke="#000" stroke-width="0.25">0,25</text>
<text x="400.5" y="823.4" font-size="13.6" text-anchor="middle" textLength="22.4" lengthAdjust="spacingAndGlyphs" fill="#000"  stroke="#000" stroke-width="0.25">3,35</text>
<text x="472.8" y="823.4" font-size="13.6" text-anchor="middle" textLength="22.4" lengthAdjust="spacingAndGlyphs" fill="#000"  stroke="#000" stroke-width="0.25">0,30</text>
<text x="280.7" y="846.6" font-size="13.6" text-anchor="middle" textLength="22.4" lengthAdjust="spacingAndGlyphs" fill="#000"  stroke="#000" stroke-width="0.25">2,35</text>
<text x="400.5" y="846.6" font-size="13.6" text-anchor="middle" textLength="22.4" lengthAdjust="spacingAndGlyphs" fill="#000"  stroke="#000" stroke-width="0.25">3,35</text>
<text x="472.8" y="846.6" font-size="13.6" text-anchor="middle" textLength="22.4" lengthAdjust="spacingAndGlyphs" fill="#000"  stroke="#000" stroke-width="0.25">0,30</text>
<text x="364.6" y="869.5" font-size="13.6" text-anchor="middle" textLength="22.4" lengthAdjust="spacingAndGlyphs" fill="#000"  stroke="#000" stroke-width="0.25">6,00</text>
<line x1="78.5" y1="306.6" x2="78.5" y2="740.57" stroke="#a6a6a6" stroke-width="1" />
<line x1="67.5" y1="315.6" x2="88.5" y2="315.6" stroke="#a6a6a6" stroke-width="1" />
<line x1="67.5" y1="732.57" x2="88.5" y2="732.57" stroke="#a6a6a6" stroke-width="1" />
<line x1="72.3" y1="309.71" x2="84.7" y2="321.49" stroke="#111" stroke-width="1.7" />
<line x1="72.3" y1="726.68" x2="84.7" y2="738.46" stroke="#111" stroke-width="1.7" />
<line x1="106" y1="306.6" x2="106" y2="740.57" stroke="#a6a6a6" stroke-width="1" />
<line x1="95" y1="315.6" x2="116" y2="315.6" stroke="#a6a6a6" stroke-width="1" />
<line x1="95" y1="329.5" x2="116" y2="329.5" stroke="#a6a6a6" stroke-width="1" />
<line x1="95" y1="616.75" x2="116" y2="616.75" stroke="#a6a6a6" stroke-width="1" />
<line x1="95" y1="630.64" x2="116" y2="630.64" stroke="#a6a6a6" stroke-width="1" />
<line x1="95" y1="732.57" x2="116" y2="732.57" stroke="#a6a6a6" stroke-width="1" />
<line x1="99.8" y1="309.71" x2="112.2" y2="321.49" stroke="#111" stroke-width="1.7" />
<line x1="99.8" y1="323.61" x2="112.2" y2="335.39" stroke="#111" stroke-width="1.7" />
<line x1="99.8" y1="610.86" x2="112.2" y2="622.63" stroke="#111" stroke-width="1.7" />
<line x1="99.8" y1="624.75" x2="112.2" y2="636.53" stroke="#111" stroke-width="1.7" />
<line x1="99.8" y1="726.68" x2="112.2" y2="738.46" stroke="#111" stroke-width="1.7" />
<line x1="133.5" y1="306.6" x2="133.5" y2="740.57" stroke="#a6a6a6" stroke-width="1" />
<line x1="122.5" y1="315.6" x2="143.5" y2="315.6" stroke="#a6a6a6" stroke-width="1" />
<line x1="122.5" y1="329.5" x2="143.5" y2="329.5" stroke="#a6a6a6" stroke-width="1" />
<line x1="122.5" y1="408.26" x2="143.5" y2="408.26" stroke="#a6a6a6" stroke-width="1" />
<line x1="122.5" y1="412.89" x2="143.5" y2="412.89" stroke="#a6a6a6" stroke-width="1" />
<line x1="122.5" y1="452.74" x2="143.5" y2="452.74" stroke="#a6a6a6" stroke-width="1" />
<line x1="122.5" y1="458.76" x2="143.5" y2="458.76" stroke="#a6a6a6" stroke-width="1" />
<line x1="122.5" y1="498.6" x2="143.5" y2="498.6" stroke="#a6a6a6" stroke-width="1" />
<line x1="122.5" y1="503.24" x2="143.5" y2="503.24" stroke="#a6a6a6" stroke-width="1" />
<line x1="122.5" y1="616.75" x2="143.5" y2="616.75" stroke="#a6a6a6" stroke-width="1" />
<line x1="122.5" y1="630.64" x2="143.5" y2="630.64" stroke="#a6a6a6" stroke-width="1" />
<line x1="122.5" y1="732.57" x2="143.5" y2="732.57" stroke="#a6a6a6" stroke-width="1" />
<line x1="127.3" y1="309.71" x2="139.7" y2="321.49" stroke="#111" stroke-width="1.7" />
<line x1="127.3" y1="323.61" x2="139.7" y2="335.39" stroke="#111" stroke-width="1.7" />
<line x1="127.3" y1="402.37" x2="139.7" y2="414.15" stroke="#111" stroke-width="1.7" />
<line x1="127.3" y1="407" x2="139.7" y2="418.78" stroke="#111" stroke-width="1.7" />
<line x1="127.3" y1="446.85" x2="139.7" y2="458.63" stroke="#111" stroke-width="1.7" />
<line x1="127.3" y1="452.87" x2="139.7" y2="464.65" stroke="#111" stroke-width="1.7" />
<line x1="127.3" y1="492.71" x2="139.7" y2="504.49" stroke="#111" stroke-width="1.7" />
<line x1="127.3" y1="497.35" x2="139.7" y2="509.13" stroke="#111" stroke-width="1.7" />
<line x1="127.3" y1="610.86" x2="139.7" y2="622.63" stroke="#111" stroke-width="1.7" />
<line x1="127.3" y1="624.75" x2="139.7" y2="636.53" stroke="#111" stroke-width="1.7" />
<line x1="127.3" y1="726.68" x2="139.7" y2="738.46" stroke="#111" stroke-width="1.7" />
<text transform="translate(131.6,298.5) rotate(-90)" font-size="13.6" text-anchor="middle" textLength="22.4" lengthAdjust="spacingAndGlyphs" fill="#000"  stroke="#000" stroke-width="0.25">0,30</text>
<text transform="translate(131.6,357) rotate(-90)" font-size="13.6" text-anchor="middle" textLength="22.4" lengthAdjust="spacingAndGlyphs" fill="#000"  stroke="#000" stroke-width="0.25">1,70</text>
<text transform="translate(131.6,391) rotate(-90)" font-size="13.6" text-anchor="middle" textLength="22.4" lengthAdjust="spacingAndGlyphs" fill="#000"  stroke="#000" stroke-width="0.25">0,10</text>
<text transform="translate(131.6,432.7) rotate(-90)" font-size="13.6" text-anchor="middle" textLength="22.4" lengthAdjust="spacingAndGlyphs" fill="#000"  stroke="#000" stroke-width="0.25">0,86</text>
<text transform="translate(119.6,456.2) rotate(-90)" font-size="13.6" text-anchor="middle" textLength="22.4" lengthAdjust="spacingAndGlyphs" fill="#000"  stroke="#000" stroke-width="0.25">0,13</text>
<text transform="translate(131.6,478.8) rotate(-90)" font-size="13.6" text-anchor="middle" textLength="22.4" lengthAdjust="spacingAndGlyphs" fill="#000"  stroke="#000" stroke-width="0.25">0,86</text>
<text transform="translate(131.6,520.6) rotate(-90)" font-size="13.6" text-anchor="middle" textLength="22.4" lengthAdjust="spacingAndGlyphs" fill="#000"  stroke="#000" stroke-width="0.25">0,10</text>
<text transform="translate(131.6,571.3) rotate(-90)" font-size="13.6" text-anchor="middle" textLength="22.4" lengthAdjust="spacingAndGlyphs" fill="#000"  stroke="#000" stroke-width="0.25">2,45</text>
<text transform="translate(131.6,647.8) rotate(-90)" font-size="13.6" text-anchor="middle" textLength="22.4" lengthAdjust="spacingAndGlyphs" fill="#000"  stroke="#000" stroke-width="0.25">0,30</text>
<text transform="translate(131.6,693) rotate(-90)" font-size="13.6" text-anchor="middle" textLength="22.4" lengthAdjust="spacingAndGlyphs" fill="#000"  stroke="#000" stroke-width="0.25">2,20</text>
<text transform="translate(104.3,347) rotate(-90)" font-size="13.6" text-anchor="middle" textLength="22.4" lengthAdjust="spacingAndGlyphs" fill="#000"  stroke="#000" stroke-width="0.25">0,30</text>
<text transform="translate(104.3,484.4) rotate(-90)" font-size="13.6" text-anchor="middle" textLength="22.4" lengthAdjust="spacingAndGlyphs" fill="#000"  stroke="#000" stroke-width="0.25">6,20</text>
<text transform="translate(104.3,647.8) rotate(-90)" font-size="13.6" text-anchor="middle" textLength="22.4" lengthAdjust="spacingAndGlyphs" fill="#000"  stroke="#000" stroke-width="0.25">0,30</text>
<text transform="translate(104.3,693) rotate(-90)" font-size="13.6" text-anchor="middle" textLength="22.4" lengthAdjust="spacingAndGlyphs" fill="#000"  stroke="#000" stroke-width="0.25">2,20</text>
<text transform="translate(77,523.9) rotate(-90)" font-size="13.6" text-anchor="middle" textLength="22.4" lengthAdjust="spacingAndGlyphs" fill="#000"  stroke="#000" stroke-width="0.25">9,00</text>
<line x1="628" y1="246.37" x2="628" y2="740.57" stroke="#a6a6a6" stroke-width="1" />
<line x1="617" y1="255.37" x2="638" y2="255.37" stroke="#a6a6a6" stroke-width="1" />
<line x1="617" y1="262.32" x2="638" y2="262.32" stroke="#a6a6a6" stroke-width="1" />
<line x1="617" y1="315.6" x2="638" y2="315.6" stroke="#a6a6a6" stroke-width="1" />
<line x1="617" y1="329.5" x2="638" y2="329.5" stroke="#a6a6a6" stroke-width="1" />
<line x1="617" y1="454.59" x2="638" y2="454.59" stroke="#a6a6a6" stroke-width="1" />
<line x1="617" y1="480.53" x2="638" y2="480.53" stroke="#a6a6a6" stroke-width="1" />
<line x1="617" y1="616.75" x2="638" y2="616.75" stroke="#a6a6a6" stroke-width="1" />
<line x1="617" y1="630.64" x2="638" y2="630.64" stroke="#a6a6a6" stroke-width="1" />
<line x1="617" y1="732.57" x2="638" y2="732.57" stroke="#a6a6a6" stroke-width="1" />
<line x1="621.8" y1="249.48" x2="634.2" y2="261.26" stroke="#111" stroke-width="1.7" />
<line x1="621.8" y1="256.43" x2="634.2" y2="268.21" stroke="#111" stroke-width="1.7" />
<line x1="621.8" y1="309.71" x2="634.2" y2="321.49" stroke="#111" stroke-width="1.7" />
<line x1="621.8" y1="323.61" x2="634.2" y2="335.39" stroke="#111" stroke-width="1.7" />
<line x1="621.8" y1="448.7" x2="634.2" y2="460.48" stroke="#111" stroke-width="1.7" />
<line x1="621.8" y1="474.64" x2="634.2" y2="486.42" stroke="#111" stroke-width="1.7" />
<line x1="621.8" y1="610.86" x2="634.2" y2="622.63" stroke="#111" stroke-width="1.7" />
<line x1="621.8" y1="624.75" x2="634.2" y2="636.53" stroke="#111" stroke-width="1.7" />
<line x1="621.8" y1="726.68" x2="634.2" y2="738.46" stroke="#111" stroke-width="1.7" />
<line x1="651.4" y1="0" x2="651.4" y2="740.57" stroke="#a6a6a6" stroke-width="1" />
<line x1="640.4" y1="315.6" x2="661.4" y2="315.6" stroke="#a6a6a6" stroke-width="1" />
<line x1="640.4" y1="329.5" x2="661.4" y2="329.5" stroke="#a6a6a6" stroke-width="1" />
<line x1="640.4" y1="616.75" x2="661.4" y2="616.75" stroke="#a6a6a6" stroke-width="1" />
<line x1="640.4" y1="630.64" x2="661.4" y2="630.64" stroke="#a6a6a6" stroke-width="1" />
<line x1="640.4" y1="732.57" x2="661.4" y2="732.57" stroke="#a6a6a6" stroke-width="1" />
<line x1="645.2" y1="309.71" x2="657.6" y2="321.49" stroke="#111" stroke-width="1.7" />
<line x1="645.2" y1="323.61" x2="657.6" y2="335.39" stroke="#111" stroke-width="1.7" />
<line x1="645.2" y1="610.86" x2="657.6" y2="622.63" stroke="#111" stroke-width="1.7" />
<line x1="645.2" y1="624.75" x2="657.6" y2="636.53" stroke="#111" stroke-width="1.7" />
<line x1="645.2" y1="726.68" x2="657.6" y2="738.46" stroke="#111" stroke-width="1.7" />
<line x1="674.6" y1="0" x2="674.6" y2="740.57" stroke="#a6a6a6" stroke-width="1" />
<line x1="663.6" y1="255.37" x2="684.6" y2="255.37" stroke="#a6a6a6" stroke-width="1" />
<line x1="663.6" y1="315.6" x2="684.6" y2="315.6" stroke="#a6a6a6" stroke-width="1" />
<line x1="663.6" y1="732.57" x2="684.6" y2="732.57" stroke="#a6a6a6" stroke-width="1" />
<line x1="668.4" y1="249.48" x2="680.8" y2="261.26" stroke="#111" stroke-width="1.7" />
<line x1="668.4" y1="309.71" x2="680.8" y2="321.49" stroke="#111" stroke-width="1.7" />
<line x1="668.4" y1="726.68" x2="680.8" y2="738.46" stroke="#111" stroke-width="1.7" />
<text transform="translate(625.9,237.8) rotate(-90)" font-size="13.6" text-anchor="middle" textLength="22.4" lengthAdjust="spacingAndGlyphs" fill="#000"  stroke="#000" stroke-width="0.25">0,15</text>
<text transform="translate(625.9,288.2) rotate(-90)" font-size="13.6" text-anchor="middle" textLength="22.4" lengthAdjust="spacingAndGlyphs" fill="#000"  stroke="#000" stroke-width="0.25">1,15</text>
<text transform="translate(625.9,346.5) rotate(-90)" font-size="13.6" text-anchor="middle" textLength="22.4" lengthAdjust="spacingAndGlyphs" fill="#000"  stroke="#000" stroke-width="0.25">0,30</text>
<text transform="translate(625.9,403.2) rotate(-90)" font-size="13.6" text-anchor="middle" textLength="22.4" lengthAdjust="spacingAndGlyphs" fill="#000"  stroke="#000" stroke-width="0.25">2,70</text>
<text transform="translate(625.9,497.6) rotate(-90)" font-size="13.6" text-anchor="middle" textLength="22.4" lengthAdjust="spacingAndGlyphs" fill="#000"  stroke="#000" stroke-width="0.25">0,56</text>
<text transform="translate(625.9,560.7) rotate(-90)" font-size="13.6" text-anchor="middle" textLength="22.4" lengthAdjust="spacingAndGlyphs" fill="#000"  stroke="#000" stroke-width="0.25">2,94</text>
<text transform="translate(625.9,647.7) rotate(-90)" font-size="13.6" text-anchor="middle" textLength="22.4" lengthAdjust="spacingAndGlyphs" fill="#000"  stroke="#000" stroke-width="0.25">0,30</text>
<text transform="translate(625.9,692.4) rotate(-90)" font-size="13.6" text-anchor="middle" textLength="22.4" lengthAdjust="spacingAndGlyphs" fill="#000"  stroke="#000" stroke-width="0.25">2,20</text>
<text transform="translate(648.7,153.3) rotate(-90)" font-size="13.6" text-anchor="middle" textLength="22.4" lengthAdjust="spacingAndGlyphs" fill="#000"  stroke="#000" stroke-width="0.25">7,00</text>
<text transform="translate(648.7,346.5) rotate(-90)" font-size="13.6" text-anchor="middle" textLength="22.4" lengthAdjust="spacingAndGlyphs" fill="#000"  stroke="#000" stroke-width="0.25">0,30</text>
<text transform="translate(648.7,484) rotate(-90)" font-size="13.6" text-anchor="middle" textLength="22.4" lengthAdjust="spacingAndGlyphs" fill="#000"  stroke="#000" stroke-width="0.25">6,20</text>
<text transform="translate(648.7,647.7) rotate(-90)" font-size="13.6" text-anchor="middle" textLength="22.4" lengthAdjust="spacingAndGlyphs" fill="#000"  stroke="#000" stroke-width="0.25">0,30</text>
<text transform="translate(648.7,692.4) rotate(-90)" font-size="13.6" text-anchor="middle" textLength="22.4" lengthAdjust="spacingAndGlyphs" fill="#000"  stroke="#000" stroke-width="0.25">2,20</text>
<text transform="translate(672.1,123.5) rotate(-90)" font-size="13.6" text-anchor="middle" textLength="22.4" lengthAdjust="spacingAndGlyphs" fill="#000"  stroke="#000" stroke-width="0.25">5,70</text>
<text transform="translate(672.1,285) rotate(-90)" font-size="13.6" text-anchor="middle" textLength="22.4" lengthAdjust="spacingAndGlyphs" fill="#000"  stroke="#000" stroke-width="0.25">1,30</text>
<text transform="translate(672.1,523.8) rotate(-90)" font-size="13.6" text-anchor="middle" textLength="22.4" lengthAdjust="spacingAndGlyphs" fill="#000"  stroke="#000" stroke-width="0.25">9,00</text>
<text transform="translate(275.87,293) rotate(-90)" font-size="12.2" text-anchor="middle" textLength="20" lengthAdjust="spacingAndGlyphs" fill="#000"  stroke="#000" stroke-width="0.25">0,60</text>
<text transform="translate(296.17,293) rotate(-90)" font-size="12.2" text-anchor="middle" textLength="20" lengthAdjust="spacingAndGlyphs" fill="#000"  stroke="#000" stroke-width="0.25">0,60</text>
<text transform="translate(351.07,293) rotate(-90)" font-size="12.2" text-anchor="middle" textLength="20" lengthAdjust="spacingAndGlyphs" fill="#000"  stroke="#000" stroke-width="0.25">1,00</text>
<text transform="translate(370.07,293) rotate(-90)" font-size="12.2" text-anchor="middle" textLength="20" lengthAdjust="spacingAndGlyphs" fill="#000"  stroke="#000" stroke-width="0.25">2,40</text>
<text transform="translate(437.87,292.7) rotate(-90)" font-size="12.2" text-anchor="middle" textLength="20" lengthAdjust="spacingAndGlyphs" fill="#000"  stroke="#000" stroke-width="0.25">2,05</text>
<text transform="translate(455.97,292.7) rotate(-90)" font-size="12.2" text-anchor="middle" textLength="20" lengthAdjust="spacingAndGlyphs" fill="#000"  stroke="#000" stroke-width="0.25">1,45</text>
<text transform="translate(293.37,604.4) rotate(-90)" font-size="12.2" text-anchor="middle" textLength="20" lengthAdjust="spacingAndGlyphs" fill="#000"  stroke="#000" stroke-width="0.25">0,80</text>
<text transform="translate(312.67,604.4) rotate(-90)" font-size="12.2" text-anchor="middle" textLength="20" lengthAdjust="spacingAndGlyphs" fill="#000"  stroke="#000" stroke-width="0.25">2,30</text>
<text transform="translate(353.67,653) rotate(-90)" font-size="12.2" text-anchor="middle" textLength="20" lengthAdjust="spacingAndGlyphs" fill="#000"  stroke="#000" stroke-width="0.25">1,00</text>
<text transform="translate(372.07,653) rotate(-90)" font-size="12.2" text-anchor="middle" textLength="20" lengthAdjust="spacingAndGlyphs" fill="#000"  stroke="#000" stroke-width="0.25">2,40</text>
<text transform="translate(416.67,653) rotate(-90)" font-size="12.2" text-anchor="middle" textLength="20" lengthAdjust="spacingAndGlyphs" fill="#000"  stroke="#000" stroke-width="0.25">1,00</text>
<text transform="translate(433.67,653) rotate(-90)" font-size="12.2" text-anchor="middle" textLength="20" lengthAdjust="spacingAndGlyphs" fill="#000"  stroke="#000" stroke-width="0.25">1,50</text>
<text transform="translate(462.37,653) rotate(-90)" font-size="12.2" text-anchor="middle" textLength="20" lengthAdjust="spacingAndGlyphs" fill="#000"  stroke="#000" stroke-width="0.25">1,00</text>
<text transform="translate(480.77,653) rotate(-90)" font-size="12.2" text-anchor="middle" textLength="20" lengthAdjust="spacingAndGlyphs" fill="#000"  stroke="#000" stroke-width="0.25">1,50</text>
<text transform="translate(282.97,755.6) rotate(-90)" font-size="12.2" text-anchor="middle" textLength="20" lengthAdjust="spacingAndGlyphs" fill="#000"  stroke="#000" stroke-width="0.25">0,45</text>
<text transform="translate(301.17,755.6) rotate(-90)" font-size="12.2" text-anchor="middle" textLength="20" lengthAdjust="spacingAndGlyphs" fill="#000"  stroke="#000" stroke-width="0.25">0,60</text>
<text x="281.7" y="341" font-size="12.2" text-anchor="middle" textLength="37.8" lengthAdjust="spacingAndGlyphs" fill="#000"  stroke="#000" stroke-width="0.25">pm 1,65</text>
<text x="442.9" y="341.2" font-size="12.2" text-anchor="middle" textLength="38.2" lengthAdjust="spacingAndGlyphs" fill="#000"  stroke="#000" stroke-width="0.25">pm 0,90</text>
<text x="420.45" y="615.8" font-size="12.2" text-anchor="middle" textLength="37.7" lengthAdjust="spacingAndGlyphs" fill="#000"  stroke="#000" stroke-width="0.25">pm 0,90</text>
<text x="467.2" y="615.8" font-size="12.2" text-anchor="middle" textLength="39" lengthAdjust="spacingAndGlyphs" fill="#000"  stroke="#000" stroke-width="0.25">pm 0,90</text>
<text x="287.3" y="715.8" font-size="12.2" text-anchor="middle" textLength="37" lengthAdjust="spacingAndGlyphs" fill="#000"  stroke="#000" stroke-width="0.25">pm 1,40</text>
<text x="341.5" y="345.6" font-size="12.2" text-anchor="middle" textLength="20.2" lengthAdjust="spacingAndGlyphs" fill="#000"  stroke="#000" stroke-width="0.25">0,90</text>
<text x="341.5" y="364" font-size="12.2" text-anchor="middle" textLength="20.2" lengthAdjust="spacingAndGlyphs" fill="#000"  stroke="#000" stroke-width="0.25">2,10</text>
<text x="338.5" y="476.5" font-size="12.2" text-anchor="middle" textLength="21.4" lengthAdjust="spacingAndGlyphs" fill="#000"  stroke="#000" stroke-width="0.25">0,75</text>
<text x="338.5" y="494" font-size="12.2" text-anchor="middle" textLength="21.4" lengthAdjust="spacingAndGlyphs" fill="#000"  stroke="#000" stroke-width="0.25">2,10</text>
<text x="292.45" y="430" font-size="12.2" text-anchor="middle" textLength="51.5" lengthAdjust="spacingAndGlyphs" fill="#000"  stroke="#000" stroke-width="0.25">14x19,3/27</text>
<text x="388.65" y="236.1" font-size="10.8" text-anchor="middle" textLength="24.7" lengthAdjust="spacingAndGlyphs" fill="#000"  stroke="#000" stroke-width="0.25">-0,15</text>
<text x="373.85" y="351.8" font-size="10.9" text-anchor="middle" textLength="27.7" lengthAdjust="spacingAndGlyphs" fill="#000"  stroke="#000" stroke-width="0.25">±0,00</text>
<text x="360.5" y="584" font-size="10.9" text-anchor="middle" textLength="27" lengthAdjust="spacingAndGlyphs" fill="#000"  stroke="#000" stroke-width="0.25">±0,00</text>
<text x="470" y="704.7" font-size="10.8" text-anchor="middle" textLength="25.4" lengthAdjust="spacingAndGlyphs" fill="#000"  stroke="#000" stroke-width="0.25">-0,15</text>
<text x="404.45" y="268.4" font-size="13.7" text-anchor="middle" font-weight="bold" textLength="18.3" lengthAdjust="spacingAndGlyphs" fill="#000"  stroke="#000" stroke-width="0.25">001</text>
<text x="404.9" y="281.4" font-size="12.3" text-anchor="middle" font-weight="bold" textLength="54.8" lengthAdjust="spacingAndGlyphs" fill="#000"  stroke="#000" stroke-width="0.25">ELŐTETŐ</text>
<text x="405" y="294.6" font-size="12.2" text-anchor="middle" textLength="37" lengthAdjust="spacingAndGlyphs" fill="#000"  stroke="#000" stroke-width="0.25">5,16 m<tspan font-size="68%" dy="-4">2</tspan></text>
<text x="359.35" y="391.2" font-size="13.7" text-anchor="middle" font-weight="bold" textLength="17.7" lengthAdjust="spacingAndGlyphs" fill="#000"  stroke="#000" stroke-width="0.25">002</text>
<text x="359.3" y="404.4" font-size="12.3" text-anchor="middle" font-weight="bold" textLength="41.4" lengthAdjust="spacingAndGlyphs" fill="#000"  stroke="#000" stroke-width="0.25">ELŐSZ.</text>
<text x="359.15" y="418" font-size="12.2" text-anchor="middle" textLength="36.7" lengthAdjust="spacingAndGlyphs" fill="#000"  stroke="#000" stroke-width="0.25">kerámia</text>
<text x="359.1" y="429.2" font-size="12.2" text-anchor="middle" textLength="37" lengthAdjust="spacingAndGlyphs" fill="#000"  stroke="#000" stroke-width="0.25">4,25 m<tspan font-size="68%" dy="-4">2</tspan></text>
<text x="276.85" y="357.7" font-size="13.7" text-anchor="middle" font-weight="bold" textLength="18.3" lengthAdjust="spacingAndGlyphs" fill="#000"  stroke="#000" stroke-width="0.25">003</text>
<text x="277.1" y="370.4" font-size="12.3" text-anchor="middle" font-weight="bold" textLength="59.2" lengthAdjust="spacingAndGlyphs" fill="#000"  stroke="#000" stroke-width="0.25">FÜRDŐSZ.</text>
<text x="276.5" y="383" font-size="12.2" text-anchor="middle" textLength="37" lengthAdjust="spacingAndGlyphs" fill="#000"  stroke="#000" stroke-width="0.25">kerámia</text>
<text x="276.5" y="395.4" font-size="12.2" text-anchor="middle" textLength="35" lengthAdjust="spacingAndGlyphs" fill="#000"  stroke="#000" stroke-width="0.25">2,90 m<tspan font-size="68%" dy="-4">2</tspan></text>
<text x="188.65" y="478.1" font-size="13.7" text-anchor="middle" font-weight="bold" textLength="18.7" lengthAdjust="spacingAndGlyphs" fill="#000"  stroke="#000" stroke-width="0.25">004</text>
<text x="188.7" y="491.2" font-size="12.3" text-anchor="middle" font-weight="bold" textLength="48.8" lengthAdjust="spacingAndGlyphs" fill="#000"  stroke="#000" stroke-width="0.25">TÁROLÓ</text>
<text x="188.8" y="503.3" font-size="12.2" text-anchor="middle" textLength="16.8" lengthAdjust="spacingAndGlyphs" fill="#000"  stroke="#000" stroke-width="0.25">ker.</text>
<text x="188.6" y="516.8" font-size="12.2" text-anchor="middle" textLength="35.8" lengthAdjust="spacingAndGlyphs" fill="#000"  stroke="#000" stroke-width="0.25">0,75 m<tspan font-size="68%" dy="-4">2</tspan></text>
<text x="426.5" y="500.7" font-size="13.7" text-anchor="middle" font-weight="bold" textLength="18.2" lengthAdjust="spacingAndGlyphs" fill="#000"  stroke="#000" stroke-width="0.25">005</text>
<text x="426.65" y="513.8" font-size="12.3" text-anchor="middle" font-weight="bold" textLength="103.5" lengthAdjust="spacingAndGlyphs" fill="#000"  stroke="#000" stroke-width="0.25">NAPPALI-ÉTKEZŐ</text>
<text x="426.4" y="527.4" font-size="12.2" text-anchor="middle" textLength="37.2" lengthAdjust="spacingAndGlyphs" fill="#000"  stroke="#000" stroke-width="0.25">kerámia</text>
<text x="426.65" y="538.6" font-size="12.2" text-anchor="middle" textLength="42.1" lengthAdjust="spacingAndGlyphs" fill="#000"  stroke="#000" stroke-width="0.25">22,11 m<tspan font-size="68%" dy="-4">2</tspan></text>
<text x="286.2" y="650" font-size="13.7" text-anchor="middle" font-weight="bold" textLength="18" lengthAdjust="spacingAndGlyphs" fill="#000"  stroke="#000" stroke-width="0.25">006</text>
<text x="285.95" y="663" font-size="12.3" text-anchor="middle" font-weight="bold" textLength="50.5" lengthAdjust="spacingAndGlyphs" fill="#000"  stroke="#000" stroke-width="0.25">KONYHA</text>
<text x="286.3" y="675.4" font-size="12.2" text-anchor="middle" textLength="37.4" lengthAdjust="spacingAndGlyphs" fill="#000"  stroke="#000" stroke-width="0.25">kerámia</text>
<text x="285.9" y="687.5" font-size="12.2" text-anchor="middle" textLength="35.8" lengthAdjust="spacingAndGlyphs" fill="#000"  stroke="#000" stroke-width="0.25">3,42 m<tspan font-size="68%" dy="-4">2</tspan></text>
<text x="386.3" y="681.7" font-size="13.7" text-anchor="middle" font-weight="bold" textLength="18" lengthAdjust="spacingAndGlyphs" fill="#000"  stroke="#000" stroke-width="0.25">007</text>
<text x="386.95" y="694.5" font-size="12.3" text-anchor="middle" font-weight="bold" textLength="45.7" lengthAdjust="spacingAndGlyphs" fill="#000"  stroke="#000" stroke-width="0.25">TERASZ</text>
<text x="386.7" y="706.9" font-size="12.2" text-anchor="middle" textLength="49.2" lengthAdjust="spacingAndGlyphs" fill="#000"  stroke="#000" stroke-width="0.25">fá.kerámia</text>
<text x="386.7" y="719.7" font-size="12.2" text-anchor="middle" textLength="37" lengthAdjust="spacingAndGlyphs" fill="#000"  stroke="#000" stroke-width="0.25">7,37 m<tspan font-size="68%" dy="-4">2</tspan></text>
<text x="446.25" y="9.7" font-size="13.8" text-anchor="middle" textLength="52.5" lengthAdjust="spacingAndGlyphs" fill="#000"  stroke="#000" stroke-width="0.25">telekhatár</text>
<text x="718.2" y="897" font-size="13.8" text-anchor="start" textLength="43" lengthAdjust="spacingAndGlyphs" fill="#000"  stroke="#000" stroke-width="0.25">meglévő</text>
<text transform="translate(221.7,998.3) rotate(-90)" font-size="13.8" text-anchor="start" textLength="52.5" lengthAdjust="spacingAndGlyphs" fill="#000"  stroke="#000" stroke-width="0.25">telekhatár</text>
<text transform="translate(500.6,998.3) rotate(-90)" font-size="13.8" text-anchor="start" textLength="52.5" lengthAdjust="spacingAndGlyphs" fill="#000"  stroke="#000" stroke-width="0.25">telekhatár</text>
</svg>
</body></html>
